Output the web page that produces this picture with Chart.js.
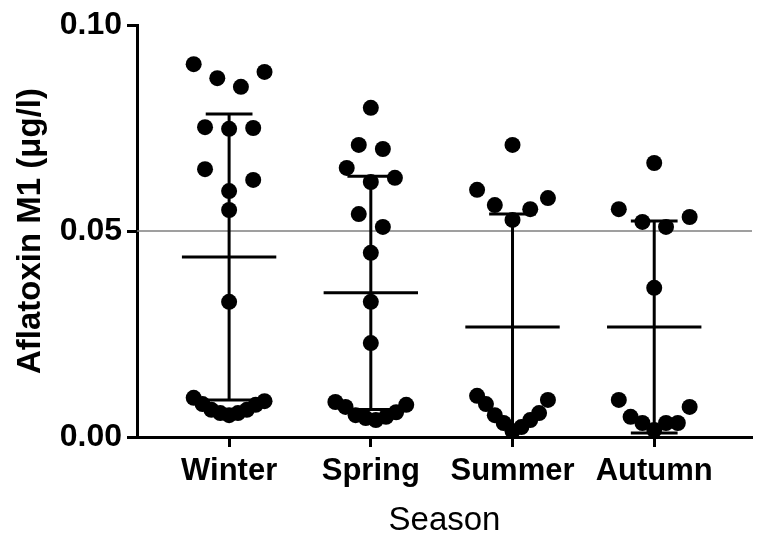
<!DOCTYPE html>
<html>
<head>
<meta charset="utf-8">
<script src="https://cdn.jsdelivr.net/npm/chart.js@4.4.1/dist/chart.umd.min.js"></script>
<style>
  body { margin: 0; background: #fff; }
  #wrap { width: 760px; height: 534px; }
</style>
</head>
<body>
<div id="wrap"><canvas id="myChart"></canvas></div>
<script>
// values (µg/l)
const seasons = ['Winter', 'Spring', 'Summer', 'Autumn'];
const winter = [0.0905, 0.0886, 0.0871, 0.0850, 0.0752, 0.0750, 0.0748, 0.0650, 0.0624, 0.0597, 0.0551, 0.0328,
  0.0095, 0.0087, 0.0080, 0.0078, 0.0066, 0.0066, 0.0058, 0.0058, 0.0053];
const spring = [0.0799, 0.0709, 0.0699, 0.0653, 0.0629, 0.0619, 0.0541, 0.0510, 0.0447, 0.0328, 0.0228,
  0.0085, 0.0078, 0.0073, 0.0060, 0.0053, 0.0049, 0.0046, 0.0041];
const summer = [0.0709, 0.0600, 0.0580, 0.0563, 0.0553, 0.0527,
  0.0100, 0.0090, 0.0080, 0.0058, 0.0053, 0.0041, 0.0034, 0.0024, 0.0014];
const autumn = [0.0665, 0.0553, 0.0534, 0.0522, 0.0510, 0.0362,
  0.0090, 0.0073, 0.0049, 0.0034, 0.0034, 0.0034, 0.0017];
const means = [0.0437, 0.0350, 0.0267, 0.0267];
const sds = [0.0347, 0.0283, 0.0274, 0.0257];
const limit = 0.05;
const yTicks = [0, 0.05, 0.10];
const yLabels = ['0.00', '0.05', '0.10'];

const font = 'Liberation Sans, Arial, sans-serif';

// simple prism-like swarm: neighbouring values share a row, lowest in the middle
const GAP = 0.004, STEP = 0.17, MAX_SPAN = 0.5;
function swarm(values, center) {
  const sorted = values.slice().sort((a, b) => b - a);
  const pts = [];
  let i = 0;
  while (i < sorted.length) {
    const row = [sorted[i]];
    let j = i + 1;
    while (j < sorted.length && sorted[j - 1] - sorted[j] <= GAP) row.push(sorted[j++]);
    const n = row.length;
    const step = n > 1 ? Math.min(STEP, MAX_SPAN / (n - 1)) : 0;
    const slots = [];
    for (let k = 0; k < n; k++) slots.push((k - (n - 1) / 2) * step);
    slots.sort((a, b) => Math.abs(a) - Math.abs(b) || b - a);
    row.sort((a, b) => a - b).forEach((v, k) => pts.push({ x: center + slots[k], y: v }));
    i = j;
  }
  return pts;
}

const groups = [winter, spring, summer, autumn];
let points = [];
groups.forEach((g, i) => { points = points.concat(swarm(g, i + 1)); });

const errorBars = {
  id: 'errorBars',
  beforeDatasetsDraw(chart) {
    const c = chart.ctx, y = chart.scales.y, a = chart.chartArea;
    const py = y.getPixelForValue(limit);
    c.save();
    c.strokeStyle = '#7f7f7f';
    c.lineWidth = 1.5;
    c.beginPath();
    c.moveTo(a.left, py);
    c.lineTo(a.right, py);
    c.stroke();
    c.restore();
  },
  afterDatasetsDraw(chart) {
    const c = chart.ctx, x = chart.scales.x, y = chart.scales.y;
    c.save();
    c.strokeStyle = '#000';
    c.lineWidth = 3;
    means.forEach((m, i) => {
      const cx = x.getPixelForValue(i + 1);
      const hi = m + sds[i];
      const lo = Math.max(0, m - sds[i]);
      const capW = x.getPixelForValue(i + 1.165) - cx;
      const meanW = x.getPixelForValue(i + 1.333) - cx;
      c.beginPath();
      c.moveTo(cx, y.getPixelForValue(lo));
      c.lineTo(cx, y.getPixelForValue(hi));
      c.moveTo(cx - capW, y.getPixelForValue(hi));
      c.lineTo(cx + capW, y.getPixelForValue(hi));
      if (m - sds[i] > 0) {
        c.moveTo(cx - capW, y.getPixelForValue(lo));
        c.lineTo(cx + capW, y.getPixelForValue(lo));
      }
      c.moveTo(cx - meanW, y.getPixelForValue(m));
      c.lineTo(cx + meanW, y.getPixelForValue(m));
      c.stroke();
    });
    c.restore();
  }
};

const ctx = document.getElementById('myChart').getContext('2d');
const myChart = new Chart(ctx, {
  type: 'scatter',
  data: {
    datasets: [{
      data: points,
      backgroundColor: '#000',
      borderWidth: 0,
      pointRadius: 8,
      pointHoverRadius: 8,
      clip: false
    }]
  },
  options: {
    responsive: true,
    maintainAspectRatio: false,
    animation: false,
    layout: { padding: { top: 25, right: 4, left: 0, bottom: 0 } },
    plugins: { legend: { display: false }, tooltip: { enabled: false } },
    scales: {
      x: {
        type: 'linear',
        min: 0.35,
        max: 4.69,
        afterBuildTicks: s => { s.ticks = seasons.map((_, i) => ({ value: i + 1 })); },
        afterFit: s => { s.height = 97; },
        border: { color: '#000', width: 3 },
        grid: { drawOnChartArea: false, color: '#000', tickLength: 10, tickWidth: 3 },
        ticks: {
          callback: v => seasons[Math.round(v) - 1],
          color: '#000',
          font: { family: font, size: 31, weight: 'bold' },
          padding: 6,
          maxRotation: 0,
          autoSkip: false
        },
        title: {
          display: true,
          text: 'Season',
          color: '#000',
          font: { family: font, size: 33, lineHeight: 0.8 },
          padding: { top: 0, bottom: 0 }
        }
      },
      y: {
        min: 0,
        max: 0.1,
        afterBuildTicks: s => { s.ticks = yTicks.map(v => ({ value: v })); },
        afterFit: s => { s.width = 137; },
        border: { color: '#000', width: 3 },
        grid: { drawOnChartArea: false, color: '#000', tickLength: 10, tickWidth: 3 },
        ticks: {
          callback: (v, i) => yLabels[i],
          color: '#000',
          font: { family: font, size: 32, weight: 'bold' },
          padding: 5
        },
        title: {
          display: true,
          text: 'Aflatoxin M1 (μg/l)',
          color: '#000',
          font: { family: font, size: 33, weight: 'bold', lineHeight: 1 },
          padding: { top: 14, bottom: 0 }
        }
      }
    }
  },
  plugins: [errorBars]
});
</script>
</body>
</html>
